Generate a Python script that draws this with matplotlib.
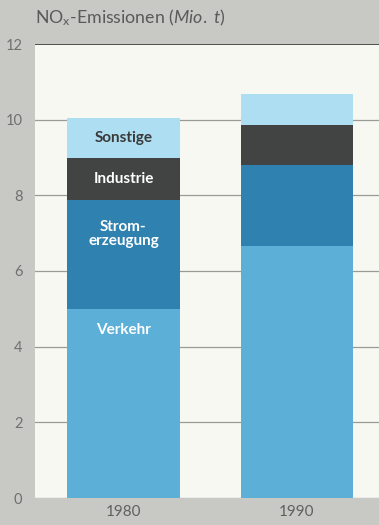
import matplotlib
matplotlib.use("Agg")
import matplotlib.pyplot as plt

# NOx emissions by source (million tonnes)
years = ["1980", "1990"]
sources = ["Verkehr", "Strom-\nerzeugung", "Industrie", "Sonstige"]
verkehr = [5.0, 6.67]
strom = [2.87, 2.14]
industrie = [1.13, 1.04]
sonstige = [1.05, 0.84]
series = [verkehr, strom, industrie, sonstige]
colors = ["#5cb0d8", "#2f81b0", "#424343", "#addef1"]
label_colors = ["white", "white", "white", "#3a3a3a"]
# vertical anchor of each label inside its segment (fraction of segment height)
label_frac = [0.89, 0.69, 0.5, 0.5]
yticks = [0, 2, 4, 6, 8, 10, 12]

plt.rcParams["font.family"] = ["Lato", "DejaVu Sans"]
plt.rcParams["mathtext.fontset"] = "custom"
plt.rcParams["mathtext.rm"] = "Lato"
plt.rcParams["mathtext.it"] = "Lato:italic"

fig = plt.figure(figsize=(3.79, 5.25), dpi=100)
fig.patch.set_facecolor("#c8c8c4")
ax = fig.add_axes([35 / 379, 27 / 525, 344 / 379, 454 / 525])
ax.set_facecolor("#f8f8f3")

x = list(range(len(years)))
bottoms = [0.0] * len(years)
for vals, col, name, lc, frac in zip(series, colors, sources, label_colors, label_frac):
    ax.bar(x, vals, bottom=bottoms, width=0.65, color=col, zorder=3, linewidth=0)
    # segment labels only on the first bar
    ax.text(x[0], bottoms[0] + vals[0] * frac, name, ha="center", va="center",
            color=lc, fontsize=11, fontweight="bold", zorder=4, linespacing=1.05)
    bottoms = [b + v for b, v in zip(bottoms, vals)]

for t in yticks[:-1]:
    ax.axhline(t, color="#9a9a96", linewidth=0.9, zorder=1)
ax.axhline(12, color="#303030", linewidth=1.2, zorder=2)

ax.set_xlim(-0.51, 1.473)
ax.set_ylim(0, 12)
ax.set_yticks(yticks)
ax.set_yticklabels([str(t) for t in yticks], color="#707070", fontsize=10.5)
ax.set_xticks(x)
ax.set_xticklabels(years, color="#606060", fontsize=11)
ax.tick_params(axis="y", length=0, pad=9)
ax.tick_params(axis="x", length=0, pad=5)
for s in ax.spines.values():
    s.set_visible(False)

fig.text(35 / 379, 1 - 18 / 525,
         "NO$_\\mathregular{x}$-Emissionen $\\mathit{(Mio.\\ t)}$",
         color="#5a5a5a", fontsize=12.8, va="center", ha="left")

fig.savefig("out.png", dpi=100, facecolor=fig.get_facecolor())
